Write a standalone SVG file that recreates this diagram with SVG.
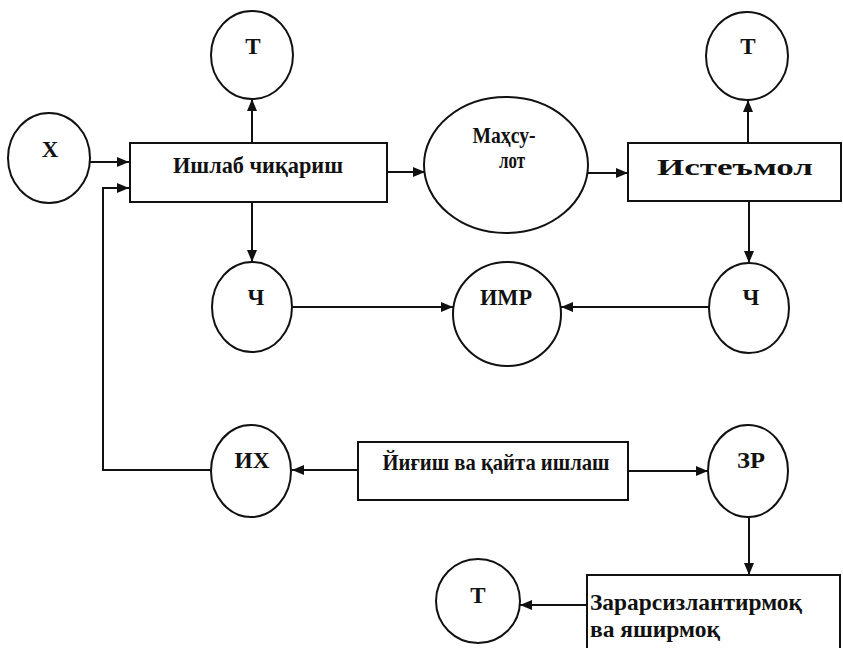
<svg xmlns="http://www.w3.org/2000/svg" width="843" height="648" viewBox="0 0 843 648">
<defs>
<marker id="ah" viewBox="0 0 12 10" refX="12" refY="5" markerWidth="12" markerHeight="10" markerUnits="userSpaceOnUse" orient="auto">
<path d="M0,0 L12,5 L0,10 z" fill="#111"/>
</marker>
<style>
.n{fill:#fff;stroke:#111;stroke-width:2}
.c{fill:none;stroke:#111;stroke-width:2}
.lb{font-family:"Liberation Serif","DejaVu Serif",serif;font-weight:bold;font-size:23px;fill:#111;text-anchor:middle}
.bt{font-family:"Liberation Serif","DejaVu Serif",serif;font-weight:bold;font-size:24px;fill:#111;text-anchor:middle}
.bl{font-family:"Liberation Serif","DejaVu Serif",serif;font-weight:bold;font-size:24px;fill:#111}
</style>
</defs>
<rect width="843" height="648" fill="#fff"/>
<g id="connectors">
<path class="c" d="M90,162 H129" marker-end="url(#ah)"/>
<path class="c" d="M211,470 H103 V188 H129" marker-end="url(#ah)"/>
<path class="c" d="M252,143 V99" marker-end="url(#ah)"/>
<path class="c" d="M252,202 V262" marker-end="url(#ah)"/>
<path class="c" d="M387,172 H425" marker-end="url(#ah)"/>
<path class="c" d="M588,173 H628" marker-end="url(#ah)"/>
<path class="c" d="M748,143 V100" marker-end="url(#ah)"/>
<path class="c" d="M749,201 V263" marker-end="url(#ah)"/>
<path class="c" d="M293,307 H453" marker-end="url(#ah)"/>
<path class="c" d="M709,307 H561" marker-end="url(#ah)"/>
<path class="c" d="M358,470 H292" marker-end="url(#ah)"/>
<path class="c" d="M628,471 H708" marker-end="url(#ah)"/>
<path class="c" d="M749,517 V575" marker-end="url(#ah)"/>
<path class="c" d="M587,605 H520" marker-end="url(#ah)"/>
</g>
<g id="node-x">
<ellipse class="n" cx="49" cy="158" rx="41" ry="45"/>
<text class="lb" x="50" y="157">Х</text>
</g>
<g id="node-t1">
<ellipse class="n" cx="252" cy="55" rx="41" ry="44"/>
<text class="lb" x="253" y="54">Т</text>
</g>
<g id="node-ishlab">
<rect class="n" x="130" y="143" width="257" height="59"/>
<text class="bt" x="258" y="173" textLength="170" lengthAdjust="spacingAndGlyphs">Ишлаб чиқариш</text>
</g>
<g id="node-mahsulot">
<ellipse class="n" cx="506" cy="165" rx="82" ry="68"/>
<text class="bt" x="504" y="143" textLength="63" lengthAdjust="spacingAndGlyphs">Маҳсу-</text>
<text class="bt" x="512" y="168" textLength="26" lengthAdjust="spacingAndGlyphs">лот</text>
</g>
<g id="node-istemol">
<rect class="n" x="628" y="143" width="213" height="58"/>
<text class="bt" x="735" y="175" textLength="156" lengthAdjust="spacingAndGlyphs">Истеъмол</text>
</g>
<g id="node-t2">
<ellipse class="n" cx="747" cy="56" rx="41" ry="44"/>
<text class="lb" x="748" y="54">Т</text>
</g>
<g id="node-ch1">
<ellipse class="n" cx="252" cy="307" rx="40" ry="45"/>
<text class="lb" x="256" y="305">Ч</text>
</g>
<g id="node-imr">
<ellipse class="n" cx="507" cy="314" rx="54" ry="52"/>
<text class="lb" x="506" y="305" textLength="52" lengthAdjust="spacingAndGlyphs">ИМР</text>
</g>
<g id="node-ch2">
<ellipse class="n" cx="749" cy="308" rx="40" ry="45"/>
<text class="lb" x="751" y="305">Ч</text>
</g>
<g id="node-ih">
<ellipse class="n" cx="251" cy="471" rx="40" ry="46"/>
<text class="lb" x="252" y="468" textLength="35" lengthAdjust="spacingAndGlyphs">ИХ</text>
</g>
<g id="node-yigish">
<rect class="n" x="358" y="442" width="270" height="58"/>
<text class="bt" x="496" y="470" textLength="227" lengthAdjust="spacingAndGlyphs">Йиғиш ва қайта ишлаш</text>
</g>
<g id="node-zr">
<ellipse class="n" cx="748" cy="471" rx="40" ry="46"/>
<text class="lb" x="751" y="468" textLength="28" lengthAdjust="spacingAndGlyphs">ЗР</text>
</g>
<g id="node-zarar">
<rect class="n" x="587" y="575" width="253" height="80"/>
<text class="bl" x="590" y="610" textLength="212" lengthAdjust="spacingAndGlyphs">Зарарсизлантирмоқ</text>
<text class="bl" x="590" y="637" textLength="130" lengthAdjust="spacingAndGlyphs">ва яширмоқ</text>
</g>
<g id="node-t3">
<ellipse class="n" cx="478" cy="601" rx="42" ry="42"/>
<text class="lb" x="478" y="603">Т</text>
</g>
</svg>
